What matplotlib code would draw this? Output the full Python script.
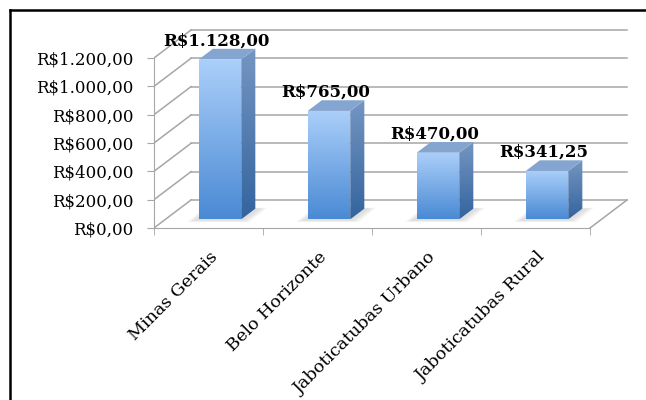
import numpy as np
import matplotlib
matplotlib.use('Agg')
from matplotlib import pyplot as plt
from matplotlib.patches import Polygon
from matplotlib.lines import Line2D

categories = ['Minas Gerais', 'Belo Horizonte', 'Jaboticatubas Urbano', 'Jaboticatubas Rural']
values = [1128.00, 765.00, 470.00, 341.25]
yticks = [0, 200, 400, 600, 800, 1000, 1200]

# oblique "3D" geometry, in data units (categories on x, reais on y)
DX, DY = 0.34, 198.0        # depth of the floor/back wall
BAR_W = 0.39                # bar width in category units
D0, D1 = 0.31, 0.69         # bar front/back depth as fraction of floor depth
XMAX, YMAX = 4.42, 1425.0

PX_CAT, PX_VAL = 109.0, 0.14167
W, H = 646, 400

def brl(v):
    s = f"{v:,.2f}"
    return 'R$' + s.replace(',', 'X').replace('.', ',').replace('X', '.')

plt.rcParams['font.family'] = ['DejaVu Serif']

fig = plt.figure(figsize=(W / 100, H / 100), dpi=100)
fig.patch.set_facecolor('white')
ax = fig.add_axes([154 / W, (H - 228) / H, XMAX * PX_CAT / W, YMAX * PX_VAL / H])
ax.set_xlim(0, XMAX)
ax.set_ylim(0, YMAX)
ax.patch.set_alpha(0)

grid_c = '#a6a6a6'
# back wall gridlines and side wall diagonals
for v in yticks:
    ax.add_line(Line2D([DX, 4 + DX], [v + DY, v + DY], color=grid_c, lw=1.1, zorder=1))
    ax.add_line(Line2D([0, DX], [v, v + DY], color=grid_c, lw=1.1, zorder=1))
# right edge of floor
ax.add_line(Line2D([4, 4 + DX], [0, DY], color=grid_c, lw=1.1, zorder=1))

def gradient_fill(poly, top_c, bot_c, y0, y1, x0, x1, z):
    top = np.array(matplotlib.colors.to_rgb(top_c))
    bot = np.array(matplotlib.colors.to_rgb(bot_c))
    t = np.linspace(0, 1, 64)[:, None]
    img = (top * (1 - t) + bot * t)[:, None, :]
    im = ax.imshow(img, extent=[x0, x1, y0, y1], origin='upper', aspect='auto',
                   interpolation='bilinear', zorder=z)
    im.set_clip_path(poly)

for i, v in enumerate(values):
    x0 = i + 0.5 - BAR_W / 2 + D0 * DX
    x1 = x0 + BAR_W
    yb = D0 * DY
    yt = yb + v
    ddx, ddy = (D1 - D0) * DX, (D1 - D0) * DY

    # soft shadow on the floor, stacked translucent layers
    for k in np.linspace(1.0, 0.2, 6):
        sx = 0.08 * k
        sh = Polygon([(x0 - 0.03 - sx, yb - 14 * k - 6), (x1 + sx, yb - 14 * k - 6),
                      (x1 + ddx + sx + 0.03, yb + ddy + 6 * k), (x0 + ddx - sx, yb + ddy + 6 * k)],
                     closed=True, facecolor='#8c8c8c', edgecolor='none', alpha=0.05, zorder=2)
        ax.add_patch(sh)

    front = Polygon([(x0, yb), (x1, yb), (x1, yt), (x0, yt)], closed=True,
                    facecolor='none', edgecolor='none', zorder=3)
    ax.add_patch(front)
    gradient_fill(front, '#abcffa', '#4a8ad4', yb, yt, x0, x1, 3)

    side = Polygon([(x1, yb), (x1 + ddx, yb + ddy), (x1 + ddx, yt + ddy), (x1, yt)],
                   closed=True, facecolor='none', edgecolor='none', zorder=3)
    ax.add_patch(side)
    gradient_fill(side, '#7596c2', '#34649e', yb, yt + ddy, x1, x1 + ddx, 3)

    topf = Polygon([(x0, yt), (x1, yt), (x1 + ddx, yt + ddy), (x0 + ddx, yt + ddy)],
                   closed=True, facecolor='#84a5d0', edgecolor='none', zorder=4)
    ax.add_patch(topf)

    ax.annotate(brl(v), xy=((x0 + x1) / 2 - 0.03, yt), xytext=(0, 10),
                textcoords='offset points', ha='center', va='baseline',
                fontsize=12, fontweight='bold', color='black', zorder=6)

# axes, ticks and labels
for s in ['top', 'right']:
    ax.spines[s].set_visible(False)
ax.spines['left'].set_color(grid_c)
ax.spines['bottom'].set_color(grid_c)
ax.spines['left'].set_bounds(0, 1200)
ax.spines['bottom'].set_bounds(0, 4)
ax.set_yticks(yticks, [brl(v) for v in yticks])
ax.tick_params(axis='y', direction='out', length=5, color=grid_c, labelsize=12, pad=10)
ax.set_xticks([0.5, 1.5, 2.5, 3.5])
ax.set_xticks([0, 1, 2, 3, 4], minor=True)
ax.tick_params(axis='x', which='major', length=0, pad=15)
ax.tick_params(axis='x', which='minor', direction='out', length=5, color=grid_c)
ax.set_xticklabels(categories, rotation=45, ha='right', va='top',
                   rotation_mode='anchor', fontsize=12.6)
offset = matplotlib.transforms.ScaledTranslation(1 / 100, 0, fig.dpi_scale_trans)
for lab in ax.get_xticklabels():
    lab.set_transform(lab.get_transform() + offset)

# page border
fig.add_artist(Line2D([9.5 / W, 9.5 / W], [0, 1 - 10 / H], color='black', lw=1.8,
                      transform=fig.transFigure))
fig.add_artist(Line2D([9.5 / W, 1], [1 - 10 / H, 1 - 10 / H], color='black', lw=1.8,
                      transform=fig.transFigure))

fig.savefig('out.png', dpi=100)
